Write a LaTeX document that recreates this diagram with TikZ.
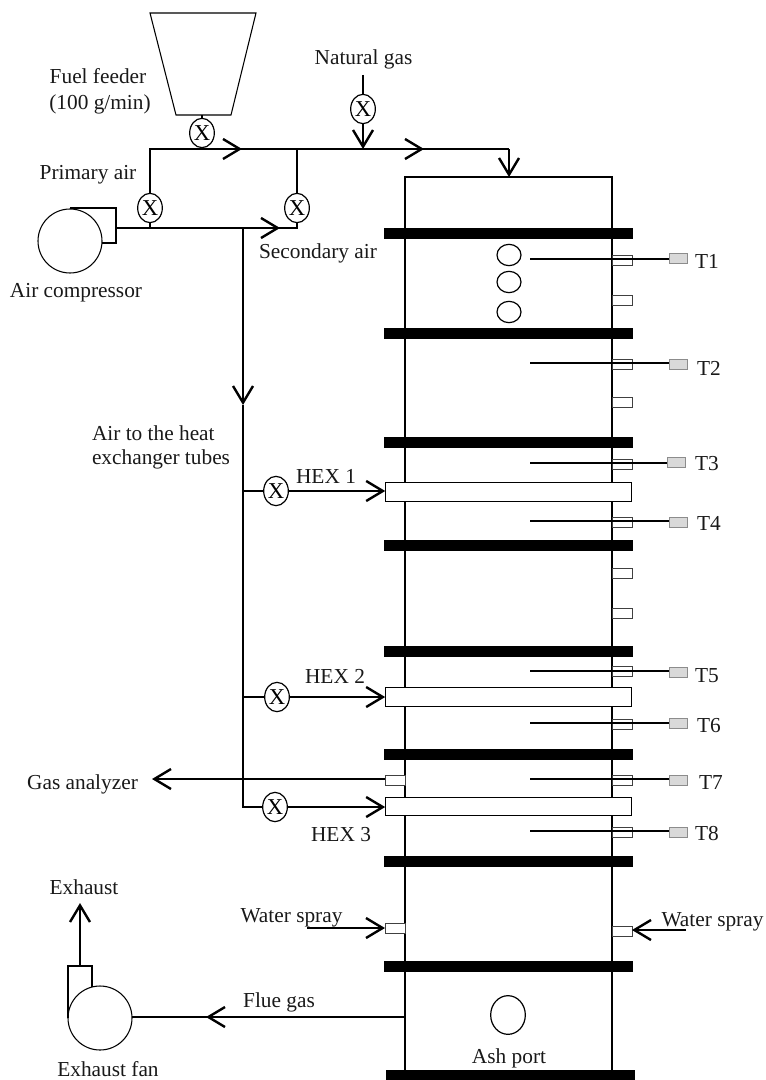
\documentclass[tikz,border=0pt]{standalone}
\usepackage{fontspec}
\setmainfont{Liberation Serif}
\usetikzlibrary{shapes.geometric,arrows.meta}
\tikzset{
  lab/.style={font=\fontsize{16}{18}\selectfont,inner sep=0pt,outer sep=0pt,text=black!90,text height=10.5pt,text depth=0pt},
  thin line/.style={line width=1pt,black},
  thick line/.style={line width=1.5pt,black},
  flow/.style={line width=1.8pt,black,-{Straight Barb[length=12.5pt,width=15pt,line width=1.8pt]}},
  valve/.style={draw,ellipse,line width=.9pt,inner sep=0pt,outer sep=0pt,minimum width=18.5pt,minimum height=22pt,font=\fontsize{17}{18}\selectfont},
  bar/.style={fill=black,draw=none,minimum width=186.75pt,minimum height=8.25pt,inner sep=0pt,outer sep=0pt},
  hex/.style={draw,fill=white,line width=.8pt,minimum width=185pt,minimum height=14pt,inner sep=0pt,outer sep=0pt},
  port/.style={draw=black!75,line width=.7pt,fill=white,minimum width=15pt,minimum height=7.5pt,inner sep=0pt,outer sep=0pt},
  sensor/.style={draw=black!45,line width=.7pt,fill=black!15,minimum width=14pt,minimum height=7.5pt,inner sep=0pt,outer sep=0pt},
  window/.style={draw,ellipse,line width=.9pt,inner sep=0pt,outer sep=0pt,minimum width=18pt,minimum height=16pt},
  machine/.style={draw,circle,line width=.8pt,inner sep=0pt,outer sep=0pt,minimum size=48pt},
}
\begin{document}
\begin{tikzpicture}[x=0.75pt,y=-0.75pt]
\useasboundingbox (0,0) rectangle (765,1080);

% furnace walls
\coordinate (wallTL) at (405,177);
\coordinate (wallTR) at (612,177);
\coordinate (wallBL) at (405,1070);
\coordinate (wallBR) at (612,1070);
\draw[thick line,line width=1.3pt] (wallBL) -- (wallTL) -- (wallTR) -- (wallBR);

% flanges
\foreach \n/\y in {b1/234,b2/333.5,b3/442,b4/545,b5/651,b6/754,b7/861,b8/966}
  \node[bar] (\n) at (508.5,\y) {};
\node[bar] (b9) at (510.5,1075) {};

% side ports (empty)
\foreach \n/\y in {e1/300,e2/402,e3/573,e4/613}
  \node[port] (\n) at (622,\y) {};

% sensors: number / probe y / port y / box x / box y / label x / label y / text
\foreach \n/\y/\py/\sx/\sy/\tx/\ty/\t in {
  1/259/260/678.5/258/707/262/T1,
  2/363/364/678.5/364/709/368/T2,
  3/463/464/676.5/462/707/463/T3,
  4/521/522/678.5/522/709/523/T4,
  5/671/671/678.5/672/707/675/T5,
  6/723/724/678.5/723/709/725/T6,
  7/779/780/678.5/780/711/782/T7,
  8/831/832.5/678.5/832/707/833/T8}{
  \node[port] (p\n) at (622,\py) {};
  \coordinate (tip\n) at (530,\y);
  \node[sensor] (s\n) at (\sx,\sy) {};
  \node[lab] (t\n) at (\tx,\ty) {\t};
  \draw[thin line] (tip\n) -- (s\n.west |- tip\n);
}

% heat exchanger tubes
\node[hex] (h1) at (508.5,492) {};
\node[hex] (h2) at (508.5,697) {};
\node[hex] (h3) at (508.5,806.5) {};

% windows
\node[window] (w1) at (509,255) {};
\node[window] (w2) at (509,282) {};
\node[window] (w3) at (509,312) {};
\node[draw,ellipse,line width=.9pt,inner sep=0pt,outer sep=0pt,minimum width=26pt,minimum height=29pt] (ash) at (508,1015) {};

% hopper
\coordinate (hTL) at (150,13);
\coordinate (hTR) at (256,13);
\coordinate (hBR) at (231,115);
\coordinate (hBL) at (176,115);
\coordinate (hS) at (202,115);
\draw[line width=.8pt] (hTL) -- (hTR) -- (hBR) -- (hBL) -- cycle;

% valves
\node[valve] (vf) at (202,133) {X};
\node[valve] (vn) at (363,109) {X};
\node[valve] (vp) at (150,208) {X};
\node[valve] (vs) at (297,208) {X};
\node[valve] (v1) at (276,491) {X};
\node[valve] (v2) at (277,697) {X};
\node[valve] (v3) at (275,807) {X};

% compressor
\node[machine] (comp) at (70,241) {};
\coordinate (cTop) at (70,208);
\coordinate (cR) at (116,208);
\coordinate (cOut) at (116,228);
\coordinate (cB) at (116,243);
\coordinate (cBin) at (102,243);
\draw[thin line] (cTop) -- (cR) -- (cB) -- (cBin);

% air network
\coordinate (jTL) at (150,149);
\coordinate (jS) at (297,149);
\coordinate (jP) at (150,228);
\coordinate (jB) at (297,228);
\coordinate (jH) at (243,228);
\coordinate (jN) at (363,149);
\coordinate (topEnd) at (509,149);
\coordinate (inlet) at (509,177);
\draw[thick line] (cOut) -- (jB) -- (vs.south);
\draw[thin line] (jP) -- (vp.south);
\draw[thick line] (vp.north) -- (jTL) -- (topEnd);
\draw[thin line] (jS) -- (vs.north);
\draw[thin line] (hS -| vf) -- (vf.north);
\coordinate (vfA) at (186,149);
\coordinate (vfB) at (242,149);
\draw[flow] (vfA) -- (vfB);
\coordinate (bA) at (218,228);
\coordinate (bB) at (280,228);
\draw[flow] (bA) -- (bB);
\coordinate (gA) at (385,149);
\coordinate (gB) at (424,149);
\draw[flow] (gA) -- (gB);
\draw[flow] (topEnd) -- (inlet);
% natural gas
\coordinate (ngTop) at (363,75);
\draw[thick line] (ngTop) -- (vn.north);
\draw[flow] (vn.south) -- (jN);

% air to HEX
\coordinate (jV) at (243,405);
\coordinate (jVm) at (243,305);
\coordinate (j1) at (243,491);
\coordinate (j2) at (243,697);
\coordinate (j3) at (243,807);
\draw[thin line] (jH) -- (jVm);
\draw[flow] (jVm) -- (jV);
\draw[thick line,line width=1.2pt] (jV) -- (j3) -- (v3.west);
\draw[thick line,line width=1.2pt] (j1) -- (v1.west);
\draw[thick line,line width=1.2pt] (j2) -- (v2.west);
\draw[flow] (v1.east) -- (h1.west |- v1);
\draw[flow] (v2.east) -- (h2.west |- v2);
\draw[flow] (v3.east) -- (h3.west |- v3);

% gas analyzer
\node[port] (ga) at (395,780) {};
\coordinate (gaEnd) at (152,779);
\draw[flow] (ga.west |- gaEnd) -- (gaEnd);

% water spray
\node[port] (wl) at (395,928) {};
\node[port] (wr) at (622,931) {};
\coordinate (wlS) at (307,928);
\coordinate (wrS) at (686,930);
\draw[flow] (wlS) -- (wl.west);
\draw[flow] (wrS) -- (wr.east |- wrS);

% exhaust fan
\node[machine] (fan) at (100,1018) {};
\coordinate (fL) at (68,1018);
\coordinate (fTL) at (68,966);
\coordinate (fTR) at (92,966);
\coordinate (fR) at (92,987);
\coordinate (fOut) at (80,966);
\coordinate (exEnd) at (80,903);
\draw[thin line] (fL) -- (fTL) -- (fTR) -- (fR);
\draw[flow] (fOut) -- (exEnd);
\coordinate (flueW) at (405,1017);
\coordinate (flueM) at (297,1017);
\coordinate (flueH) at (206,1017);
\draw[thin line] (flueW) -- (fan.east |- flueW);
\draw[flow] (flueM) -- (flueH);

% labels
\node[lab] (l1) at (363.5,58) {Natural gas};
\node[lab] (l2) at (98,77) {Fuel feeder};
\node[lab] (l3) at (100,103) {(100 g/min)};
\node[lab] (l4) at (88,173) {Primary air};
\node[lab] (l5) at (76,290) {Air compressor};
\node[lab] (l6) at (318,252) {Secondary air};
\node[lab,anchor=west] (l7) at (92,433) {Air to the heat};
\node[lab,anchor=west] (l8) at (92,457) {exchanger tubes};
\node[lab] (l9) at (326,476) {HEX 1};
\node[lab] (l10) at (335,676) {HEX 2};
\node[lab] (l11) at (341,834) {HEX 3};
\node[lab] (l12) at (82.5,782) {Gas analyzer};
\node[lab] (l13) at (291.5,915) {Water spray};
\node[lab] (l14) at (712.5,919) {Water spray};
\node[lab] (l15) at (84,887) {Exhaust};
\node[lab] (l16) at (279,1000) {Flue gas};
\node[lab] (l17) at (108,1069.5) {Exhaust fan};
\node[lab] (l18) at (509,1056) {Ash port};
\end{tikzpicture}
\end{document}
